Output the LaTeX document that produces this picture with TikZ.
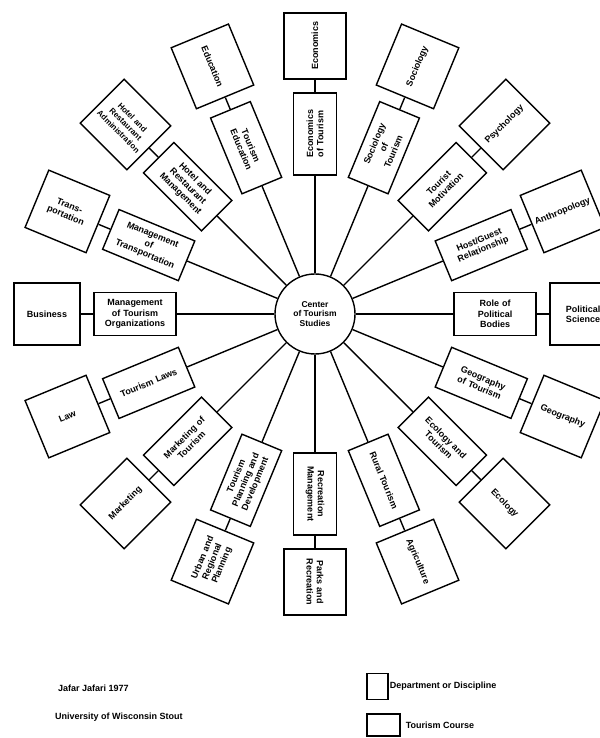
\documentclass[tikz,border=0pt]{standalone}
\usepackage{fontspec}
\setmainfont{Liberation Sans}
\begin{document}
\begin{tikzpicture}[x=1pt,y=1pt,
  box/.style={draw, line width=1.4pt, align=center, inner sep=1pt,
    font=\fontsize{9}{10.3}\selectfont\bfseries},
  course/.style={box, minimum width=82pt, minimum height=43pt, text width=79pt},
  disc/.style={box, minimum width=66pt, minimum height=62pt, text width=64pt},
  spoke/.style={line width=1.4pt},
  legtext/.style={font=\fontsize{9}{10}\selectfont\bfseries, inner sep=0pt, anchor=west}]
\useasboundingbox (0,0) rectangle (599,738);
\begin{scope}[shift={(315,424)}]
\node[draw, circle, line width=1.4pt, minimum size=80pt, align=center,
  font=\fontsize{8.5}{9.8}\selectfont\bfseries] (hub) at (0,0) {Center\\of Tourism\\Studies};
\foreach \a/\ct/\dt [count=\i] in {
  0/{Role of\\Political\\Bodies}/{Political\\Science},
  22.5/{Host/Guest\\Relationship}/{Anthropology},
  45/{Tourist\\Motivation}/{Psychology},
  67.5/{Sociology\\of\\Tourism}/{Sociology},
  90/{Economics\\of Tourism}/{Economics},
  112.5/{Tourism\\Education}/{Education},
  135/{Hotel and\\Restaurant\\Management}/{\fontsize{8}{9.5}\selectfont Hotel and\\Restaurant\\Administration},
  157.5/{Management\\of\\Transportation}/{Trans-\\portation},
  180/{Management\\of Tourism\\Organizations}/{Business},
  202.5/{Tourism Laws}/{Law},
  225/{Marketing of\\Tourism}/{Marketing},
  247.5/{Tourism\\Planning and\\Development}/{Urban and\\Regional\\Planning},
  270/{Recreation\\Management}/{Parks and\\Recreation},
  292.5/{Rural Tourism}/{Agriculture},
  315/{Ecology and\\Tourism}/{Ecology},
  337.5/{Geography\\of Tourism}/{Geography}}{
  \pgfmathsetmacro\rot{(\a>90 && \a<270) ? \a-180 : ((\a>=270) ? \a-360 : \a)}
  \node[course, rotate=\rot] (c\i) at (\a:180) {\ct};
  \node[disc, rotate=\rot] (d\i) at (\a:268) {\dt};
  \draw[spoke] (hub) -- (c\i);
  \draw[spoke] (c\i) -- (d\i);
}
\end{scope}
% legend
\node[legtext] (author) at (58,50) {Jafar Jafari 1977};
\node[legtext] (univ) at (55,21) {University of Wisconsin Stout};
\node[draw, line width=1.4pt, minimum width=21pt, minimum height=26pt, inner sep=0pt] (lg1) at (377.5,51.5) {};
\node[legtext, xshift=1pt] (lt1) at (lg1.east) {Department or Discipline};
\node[draw, line width=1.4pt, minimum width=33pt, minimum height=22pt, inner sep=0pt] (lg2) at (383.5,13) {};
\node[legtext, xshift=5pt] (lt2) at (lg2.east) {Tourism Course};
\end{tikzpicture}
\end{document}
